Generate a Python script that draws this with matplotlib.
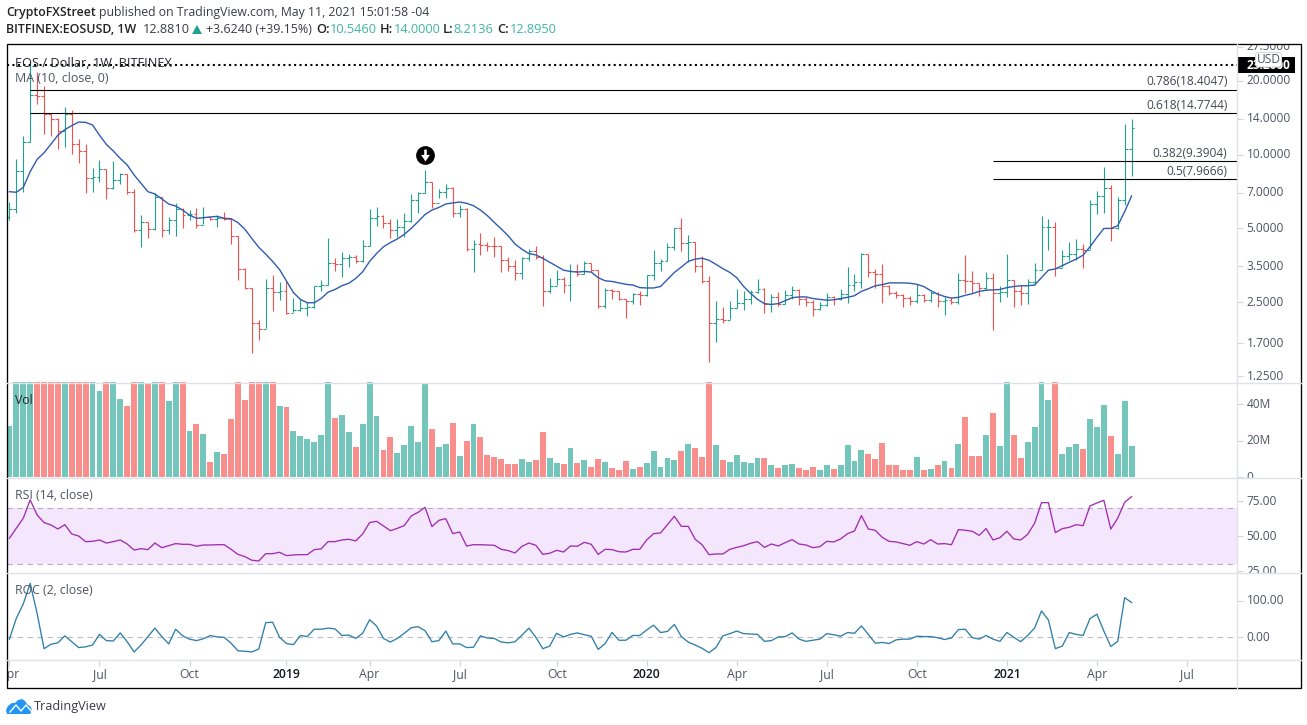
import numpy as np
import matplotlib
matplotlib.use('Agg')
import matplotlib.pyplot as plt
from matplotlib.patches import Rectangle, FancyBboxPatch, Polygon

W, H = 1307, 725

plt.rcParams['font.family'] = ['Open Sans', 'DejaVu Sans']

# weekly EOS/USD bars
opens = [5.58,5.98,8.54,11.28,17.5,17.4,14.7,13.9,12.45,14.6,
         11.0,10.35,8.05,8.13,8.73,7.33,7.85,8.33,7.02,4.93,
         5.33,4.96,6.69,4.93,5.41,5.98,5.66,5.7,5.16,5.58,
         5.45,5.5,5.48,4.66,3.43,2.87,2.05,1.94,2.87,2.76,
         2.78,2.27,2.33,2.36,2.39,2.9,2.93,3.6,3.58,3.79,
         3.84,3.67,4.25,5.5,5.62,5.28,4.93,5.08,5.38,6.53,
         6.95,7.76,6.33,7.02,7.29,5.76,5.98,4.11,4.31,4.27,
         4.24,4.23,3.71,3.53,3.28,3.78,4.06,3.82,2.79,2.92,
         3.1,2.93,3.35,3.27,3.6,3.4,2.42,2.81,2.77,2.57,
         2.54,2.7,2.67,3.22,3.6,3.68,4.21,5.03,4.38,4.41,
         3.51,3.05,2.05,2.14,2.12,2.36,2.49,2.59,2.75,2.82,
         2.47,2.62,2.47,2.67,2.81,2.57,2.51,2.35,2.43,2.62,
         2.58,2.7,2.93,3.02,3.92,3.31,3.26,2.92,2.72,2.68,
         2.61,2.54,2.67,2.55,2.72,2.54,2.55,2.51,3.08,3.06,
         3.0,2.85,3.13,2.72,2.75,3.08,2.77,2.72,3.03,3.4,
         5.05,5.08,3.46,3.86,3.93,4.14,4.1,6.29,6.78,7.29,
         5.0,6.53,10.55]
highs = [6.43,9.56,11.9,23.2,21.8,19.0,14.7,14.1,15.6,15.19,
         11.6,11.0,8.83,9.5,8.73,9.38,8.43,8.33,7.22,5.67,
         5.33,6.95,6.69,5.55,6.33,6.03,5.94,6.03,6.09,5.58,
         5.67,5.85,5.5,4.66,3.45,2.87,2.12,3.1,3.22,3.02,
         3.05,2.61,2.58,2.51,2.9,3.08,4.55,3.78,3.99,3.93,
         3.9,4.48,5.98,6.09,5.67,5.44,5.44,5.79,6.88,7.06,
         8.65,7.76,7.24,7.56,7.41,6.23,6.03,4.48,4.78,4.42,
         4.6,4.23,3.83,3.72,3.82,4.14,4.23,3.89,3.13,3.38,
         3.18,3.57,3.57,3.69,3.6,3.4,2.87,2.83,2.77,2.57,
         2.72,2.79,3.22,4.08,3.75,4.38,5.03,5.5,4.7,4.41,
         3.86,3.2,2.53,2.4,2.53,2.83,2.79,2.81,3.11,2.85,
         2.7,2.75,2.81,2.92,2.82,2.64,2.55,2.5,2.72,2.66,
         2.82,3.48,3.25,3.96,3.92,3.43,3.57,2.94,2.79,2.7,
         2.65,2.97,2.7,2.77,2.75,2.64,2.64,3.28,3.9,3.35,
         3.0,3.31,3.28,2.9,3.93,3.08,2.94,3.11,3.6,5.62,
         5.45,5.3,4.08,4.41,4.51,4.34,6.53,7.1,8.9,7.52,
         6.69,13.35,14.0]
lows = [5.41,5.79,7.06,11.28,16.05,12.1,11.9,10.5,10.77,10.1,
        9.2,6.95,7.06,7.76,6.59,7.24,7.59,6.88,4.85,4.21,
        4.55,4.93,4.63,4.75,4.66,5.01,5.41,5.01,5.21,5.41,
        5.08,5.41,4.32,3.08,2.83,1.56,1.76,1.96,2.31,2.55,
        2.24,2.29,2.31,2.19,2.36,2.77,2.93,3.36,3.18,3.49,
        3.6,3.64,4.25,5.11,5.03,4.55,4.63,4.63,5.33,5.76,
        6.95,6.03,6.63,6.67,5.58,5.58,4.06,3.33,3.9,4.06,
        3.84,3.33,3.36,3.08,3.11,3.67,3.75,2.42,2.74,2.93,
        2.74,2.54,3.2,3.27,3.33,2.38,2.38,2.58,2.55,2.16,
        2.47,2.44,2.65,3.08,3.35,3.67,4.08,4.06,3.64,3.32,
        3.01,1.43,1.73,2.06,2.14,2.36,2.33,2.46,2.72,2.27,
        2.29,2.42,2.47,2.57,2.44,2.42,2.2,2.32,2.42,2.44,
        2.55,2.49,2.77,2.86,3.18,2.87,2.49,2.68,2.6,2.4,
        2.44,2.49,2.51,2.51,2.4,2.22,2.45,2.45,2.72,2.72,
        2.66,2.81,1.93,2.51,2.64,2.4,2.44,2.46,2.94,3.4,
        4.1,3.2,3.49,3.71,3.72,3.45,4.14,5.72,5.79,4.45,
        4.98,6.23,8.21]
closes = [5.98,8.54,11.28,17.5,17.4,14.7,13.9,12.45,14.6,11.0,
          10.35,8.05,8.13,8.73,7.33,7.85,8.33,7.02,4.93,5.33,
          4.96,6.69,4.93,5.41,5.98,5.66,5.7,5.16,5.58,5.45,
          5.5,5.48,4.66,3.43,2.87,2.05,1.94,2.87,2.76,2.78,
          2.27,2.33,2.36,2.39,2.9,2.93,3.6,3.58,3.79,3.84,
          3.67,4.25,5.5,5.62,5.28,4.93,5.08,5.38,6.53,6.95,
          7.76,6.33,7.02,7.29,5.76,5.98,4.11,4.31,4.27,4.24,
          4.23,3.71,3.53,3.28,3.78,4.06,3.82,2.79,2.92,3.1,
          2.93,3.35,3.27,3.6,3.4,2.42,2.81,2.77,2.57,2.54,
          2.7,2.67,3.22,3.6,3.68,4.21,5.03,4.38,4.41,3.51,
          3.05,2.05,2.14,2.12,2.36,2.49,2.59,2.75,2.82,2.47,
          2.62,2.47,2.67,2.81,2.57,2.51,2.35,2.43,2.62,2.58,
          2.7,2.93,3.02,3.92,3.31,3.26,2.92,2.72,2.68,2.61,
          2.54,2.67,2.55,2.72,2.54,2.55,2.51,3.08,3.06,3.0,
          2.85,3.13,2.72,2.75,3.08,2.77,2.72,3.03,3.4,5.05,
          5.08,3.46,3.86,3.93,4.14,4.1,6.29,6.78,7.29,5.0,
          6.53,10.55,12.89]
ma10 = [7.06,7.02,7.35,8.52,9.56,10.17,11.03,12.0,12.64,13.12,
        13.57,13.53,13.2,12.0,11.0,10.34,9.65,9.07,8.26,7.64,
        7.06,6.91,6.6,6.29,6.17,5.94,5.67,5.5,5.53,5.57,
        5.6,5.5,5.48,5.28,4.96,4.55,4.19,3.93,3.67,3.4,
        3.05,2.74,2.57,2.49,2.49,2.59,2.75,2.82,2.92,2.99,
        3.13,3.33,3.67,3.95,4.21,4.38,4.53,4.73,5.0,5.33,
        5.7,5.94,6.09,6.29,6.35,6.41,6.33,6.19,5.94,5.64,
        5.29,4.98,4.67,4.32,4.11,3.95,3.9,3.78,3.64,3.51,
        3.38,3.34,3.32,3.34,3.32,3.15,3.06,3.04,3.0,2.96,
        2.94,2.87,2.86,2.86,2.9,3.1,3.31,3.48,3.67,3.75,
        3.78,3.71,3.57,3.43,3.31,3.15,2.9,2.72,2.57,2.47,
        2.45,2.47,2.54,2.61,2.63,2.63,2.59,2.57,2.55,2.56,
        2.59,2.62,2.66,2.77,2.84,2.92,2.95,3.0,3.0,3.0,
        2.99,2.96,2.9,2.79,2.7,2.64,2.6,2.62,2.67,2.71,
        2.77,2.8,2.81,2.82,2.87,2.9,2.92,2.92,2.94,3.15,
        3.38,3.42,3.53,3.64,3.75,3.89,4.21,4.6,5.0,5.0,
        5.13,5.85,6.78]
# millions, bars taller than the pane are clipped
volume = [27.8,60,60,60,60,60,60,60,60,60,
          60,60,60,47.5,60,60,43,39,60,60,
          51.4,60,60,42,60,60,25.4,29.3,23.8,8.3,
          13.8,12.7,32,60,42.5,60,60,60,60,39,
          38.7,25.4,22.7,21,19.3,23.2,60,32.6,34.3,24.9,
          16.6,29.3,60,33.7,14.9,22.1,13.3,17.7,28.2,19.3,
          51.4,26.5,16.6,18.2,29.8,11.6,19.9,29.3,22.1,12.2,
          11,9.9,7.2,7.2,9.9,8.3,9.4,24.9,10.5,7.7,
          7.2,16,7.7,9.4,5.5,9.9,8.3,5,3.9,8.8,
          4.4,5.5,7.7,14.4,5.5,10.5,9.4,14.4,18.2,16,
          11,60,17.7,9.4,8.3,12.2,8.3,7.7,10.5,10.5,
          6.6,5,6.6,7.2,5,3.9,5.5,3.9,6.6,4.4,
          6.6,17.7,8.8,14.9,12.7,9.9,18.8,6.6,6.6,3.9,
          3.9,11,3.9,4.4,6.6,8.8,5,18.2,33,11.6,
          11.6,23.2,35.4,17.1,60,23.2,10.5,19.3,27.6,60,
          42.5,60,12.7,16.6,18.2,15.5,32,27.6,39.8,22.7,
          12.7,42,17.1]
rsi = [48.6,55.7,62.9,76,65.2,59.8,58.1,55.2,58.3,51.7,
       50.2,46.2,46.4,47.4,45.2,46.2,47.4,44.5,40.2,41.2,
       40.5,45.2,41.9,43.3,44.8,44.3,44.3,42.9,43.8,43.8,
       44,44,40.7,37.1,35.5,32.9,32.4,37.6,37.6,38.6,
       36.2,36.7,36.9,36.9,40.5,41,46.2,46.2,47.4,47.9,
       46.7,51.7,59.8,60.7,57.4,54,55.7,57.6,64.5,67.1,
       70.7,56.9,61.4,62.6,51.9,53.1,43.1,44,44,43.8,
       43.6,40.7,39.8,38.1,42.9,45.2,43.6,37.1,37.9,40,
       38.8,43.1,42.9,45.7,44.3,37.1,40.7,40.5,39,38.8,
       40.7,40.7,47.4,51.9,52.4,58.3,64.3,57.1,57.1,47.9,
       44,36.9,37.4,37.4,40.7,42.1,43.3,45,46.2,42.1,
       44.5,43.1,45.5,47.6,44.5,43.8,41.9,42.6,46.4,46,
       48.1,51.9,53.8,64.8,55.2,54.3,49.3,46.4,46,44.8,
       43.6,46.2,44.5,47.6,44.5,44.8,44,54.8,54.3,53.6,
       50.7,55.5,47.4,49,53.6,48.1,47.4,51.4,59.3,74,
       74,52.6,55.5,56.4,58.3,57.6,71.7,73.8,75.7,55.2,
       62.9,74.3,78.3]
roc = [-5,52,91,147,65,-31,-19,-15,4,-12,
       -28,-26,-21,8,-9,-10,12,-12,-40,-21,
       2,25,2,-18,22,4,-5,-9,-4,5,
       1,0,-16,-37,-38,-40,-32,40,41,0,
       -17,-20,5,2,22,22,25,23,5,6,
       -3,11,48,31,-3,-13,-3,11,26,29,
       18,-12,-9,17,-18,-18,-28,-27,4,-2,
       -3,-13,-15,-12,6,25,0,-31,-24,11,
       1,8,12,7,3,-33,-17,13,-8,-8,
       5,5,20,33,13,16,35,2,-13,-21,
       -30,-42,-28,4,10,17,10,9,8,-11,
       -9,1,2,12,-5,-11,-8,-5,10,7,
       3,13,11,31,8,-16,-14,-17,-7,-5,
       -5,3,2,2,-1,-6,-2,21,22,-1,
       -5,5,-5,-11,13,0,-12,5,25,72,
       47,-31,-24,13,8,5,51,63,17,-25,
       -11,108,95]

weeks = np.arange(len(closes))

# fib levels
fib_ratios = ['0.786', '0.618', '0.382', '0.5']
fib_prices = [18.4047, 14.7744, 9.3904, 7.9666]
fib_start = [3, 3, 142, 142]
top_level = 23.2

price_ticks = [27.5, 20, 14, 10, 7, 5, 3.5, 2.5, 1.7, 1.25]
price_labels = ['27.5000', '20.0000', '14.0000', '10.0000', '7.0000',
                '5.0000', '3.5000', '2.5000', '1.7000', '1.2500']
vol_ticks = [0, 20, 40]
vol_labels = ['0', '20M', '40M']
rsi_ticks = [25, 50, 75]
rsi_labels = ['25.00', '50.00', '75.00']
roc_ticks = [0, 100]
roc_labels = ['0.00', '100.00']

time_ticks = [0, 13, 26, 40, 52, 65, 79, 92, 105, 118, 131, 144, 157, 170]
time_labels = ['Apr', 'Jul', 'Oct', '2019', 'Apr', 'Jul', 'Oct', '2020',
               'Apr', 'Jul', 'Oct', '2021', 'Apr', 'Jul']

GREEN = '#1fa38f'
RED = '#f34f4f'
VOL_GREEN = '#74c5bc'
VOL_RED = '#f98f8d'
GREY = '#4f5460'
SEP = '#dfe1e6'

# pixel layout of the panes
LEFT, MID, RIGHT = 6.5, 1236.5, 1300.5
TOP, P1, P2, P3, P4, BOTTOM = 43.5, 382.5, 478.3, 573.3, 660.3, 688.3
XLIM = (-0.42, 177.15)


def box(x0, y0, x1, y1):
    return [x0 / W, 1 - y1 / H, (x1 - x0) / W, (y1 - y0) / H]


def pane(fig, y0, y1, ylim, log=False):
    ax = fig.add_axes(box(LEFT, y0, MID, y1))
    if log:
        ax.set_yscale('log')
    ax.set_xlim(XLIM)
    ax.set_ylim(ylim)
    ax.set_xticks([])
    ax.minorticks_off()
    ax.set_yticks([])
    for s in ax.spines.values():
        s.set_visible(False)
    return ax


def scale(fig, y0, y1, ax, ticks, labels):
    # strip on the right with the same y scale, labels get cut at its edge
    sc = fig.add_axes(box(MID, y0, RIGHT, y1))
    sc.set_yscale(ax.get_yscale())
    sc.set_ylim(ax.get_ylim())
    sc.set_xlim(0, 64)
    sc.set_xticks([])
    sc.minorticks_off()
    sc.set_yticks(ticks)
    sc.set_yticklabels([])
    sc.tick_params(axis='y', which='both', direction='in', length=4, width=0.8,
                   color='#d0d3da', left=True, right=False)
    for s in sc.spines.values():
        s.set_visible(False)
    for t, lab in zip(ticks, labels):
        sc.text(10, t, lab, ha='left', va='center', fontsize=8.6, color=GREY, clip_on=True)
    return sc


fig = plt.figure(figsize=(W / 100, H / 100), dpi=100, facecolor='white')

up = np.array(closes) > np.array(opens)
bar_colors = [GREEN if u else RED for u in up]
vol_colors = [VOL_GREEN if u else VOL_RED for u in up]

# price pane
ax = pane(fig, TOP, P1, (1.178, 28.36), log=True)
ax.vlines(weeks, lows, highs, colors=bar_colors, lw=0.8)
ax.hlines(opens, weeks - 0.42, weeks, colors=bar_colors, lw=0.8)
ax.hlines(closes, weeks, weeks + 0.42, colors=bar_colors, lw=0.8)
ax.plot(weeks, ma10, color='#2f5cb0', lw=1.0)
ax.plot(XLIM, [top_level, top_level], color='black', lw=1.5, linestyle=(0, (1, 1.6)), dash_capstyle='butt')
for ratio, level, start in zip(fib_ratios, fib_prices, fib_start):
    ax.hlines(level, start, XLIM[1], color='black', lw=0.8)
    ax.annotate('%s(%.4f)' % (ratio, level), xy=(175.85, level), xytext=(0, 0.8),
                textcoords='offset points', ha='right', va='bottom', fontsize=8.6, color='#444850')
# arrow marker above the May 2019 high
ax.plot([60], [10.0], marker='o', ms=13.5, color='black', mew=0)
ax.plot([60], [10.0], marker=[(-.22, 1), (.22, 1), (.22, .1), (.75, .1), (0, -1), (-.75, .1), (-.22, .1)],
        ms=8.5, color='white', mew=0)
ax.text(8.5 / 6.927 - 0.42, 23.5, 'EOS / Dollar, 1W, BITFINEX', fontsize=9.2, color='#23262e', va='center')
ax.text(8.5 / 6.927 - 0.42, 20.4, 'MA (10, close, 0)', fontsize=8.9, color=GREY, va='center')
scale(fig, TOP, P1, ax, price_ticks, price_labels)

# volume
ax_v = pane(fig, P1, P2, (-0.7, 52))
ax_v.bar(weeks, volume, width=0.85, color=vol_colors)
ax_v.text(0.8, 42, 'Vol', fontsize=8.8, color='#23262e', va='center')
scale(fig, P1, P2, ax_v, vol_ticks, vol_labels)

# rsi
ax_r = pane(fig, P2, P3, (23.6, 91.4))
ax_r.axhspan(30, 70, color='#f4e6fc', lw=0)
ax_r.axhline(70, color='#b8aebf', lw=0.8, dashes=(5, 4))
ax_r.axhline(30, color='#b8aebf', lw=0.8, dashes=(5, 4))
ax_r.plot(weeks, rsi, color='#a02eb0', lw=0.95)
ax_r.text(0.8, 79, 'RSI (14, close)', fontsize=8.8, color=GREY, va='center')
scale(fig, P2, P3, ax_r, rsi_ticks, rsi_labels)

# roc
ax_c = pane(fig, P3, P4, (-62.7, 174.5))
ax_c.axhline(0, color='#b9bcc2', lw=0.8, dashes=(5, 4))
ax_c.plot(weeks, roc, color='#2f7fa8', lw=0.95)
ax_c.text(0.8, 127, 'ROC (2, close)', fontsize=8.8, color=GREY, va='center')
scale(fig, P3, P4, ax_c, roc_ticks, roc_labels)

# time axis strip
ax_t = pane(fig, P4, BOTTOM, (0, 1))
ax_t.set_xticks(time_ticks)
ax_t.set_xticklabels([])
ax_t.tick_params(axis='x', direction='in', top=True, bottom=False, length=4, width=0.8, color='#d0d3da')
for t, lab in zip(time_ticks, time_labels):
    is_year = lab.isdigit()
    ax_t.text(t, 0.5, lab, ha='center', va='center', fontsize=8.8, clip_on=True,
              color='#131722' if is_year else GREY, fontweight='semibold' if is_year else 'normal')

# separators and frame, in pixels
over = fig.add_axes([0, 0, 1, 1], facecolor='none', zorder=10)
over.set_xlim(0, W)
over.set_ylim(H, 0)
over.axis('off')
for y in [P1, P2, P3, P4]:
    over.plot([LEFT, RIGHT], [y, y], color=SEP, lw=1)
over.plot([MID, MID], [TOP, BOTTOM], color=SEP, lw=1)
over.add_patch(Rectangle((LEFT, TOP), RIGHT - LEFT, BOTTOM - TOP, fill=False, ec='black', lw=0.95))

# last price flag with the USD badge over it
over.add_patch(Rectangle((MID, 57), 58.5, 16, fc='black', ec='none'))
over.text(1246.5, 65, '23.2000', color='white', fontsize=8.6, fontweight='bold', va='center')
over.add_patch(FancyBboxPatch((1255.5, 52.5), 26, 14.5, boxstyle='round,pad=0,rounding_size=3',
                              fc='white', ec='#d6d8dd', lw=0.7, zorder=4))
over.text(1268.5, 59.5, 'USD', ha='center', va='center', fontsize=8.6, color=GREY, zorder=5)

# header
over.text(6, 12.5, 'CryptoFXStreet', fontsize=8.8, fontweight='semibold', color='#222', va='center')
over.text(99, 12.5, 'published on TradingView.com, May 11, 2021 15:01:58 -04', fontsize=8.8, color='#3a3d45', va='center')
over.text(6, 29.5, 'BITFINEX:EOSUSD, 1W', fontsize=8.9, fontweight='semibold', color='#222', va='center')
over.text(143, 29.5, '12.8810', fontsize=9.2, color='#3a3d45', va='center')
over.add_patch(Polygon([(192, 34), (202, 34), (197, 25)], fc=GREEN, ec='none'))
over.text(206, 29.5, '+3.6240 (+39.15%)', fontsize=9.0, color='#3a3d45', va='center')
for x, lab in [(316, 'O:'), (380, 'H:'), (443, 'L:'), (497, 'C:')]:
    over.text(x, 29.5, lab, fontsize=9.2, fontweight='semibold', color='#222', va='center')
for x, lab in [(330, '10.5460'), (394, '14.0000'), (453, '8.2136'), (510, '12.8950')]:
    over.text(x, 29.5, lab, fontsize=9.2, color='#3fb5a5', va='center')

# logo
over.add_patch(Polygon([(7, 714), (6, 710), (8, 706), (12, 703), (15, 703), (18, 700), (22, 699), (25, 701),
                        (27, 704), (31, 707), (32, 711), (30, 714)], fc='#2196f3', ec='none'))
over.plot([10, 16, 21, 26, 32], [712, 705, 711, 705, 712], color='white', lw=1)
over.text(34, 706.5, 'TradingView', fontsize=9.1, color='#3a3d45', va='center')

fig.savefig('out.png', dpi=100)
